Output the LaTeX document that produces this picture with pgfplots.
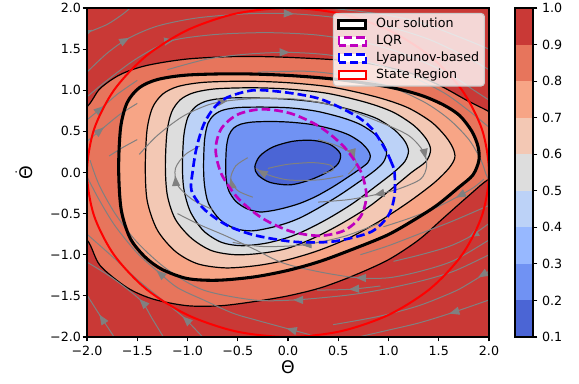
\documentclass[border=0pt]{standalone}
\usepackage{pgfplots}
\pgfplotsset{compat=1.18}
\usepackage{amsmath}
\usepackage{fontspec}
\setmainfont{DejaVu Sans}
\usetikzlibrary{arrows.meta}

% coolwarm bands, 0.1 ... 1.0
\definecolor{cA}{RGB}{75,101,213}
\definecolor{cB}{RGB}{112,146,243}
\definecolor{cC}{RGB}{151,184,255}
\definecolor{cD}{RGB}{188,210,247}
\definecolor{cE}{RGB}{221,221,221}
\definecolor{cF}{RGB}{243,200,180}
\definecolor{cG}{RGB}{247,165,134}
\definecolor{cH}{RGB}{231,117,92}
\definecolor{cI}{RGB}{201,57,54}
\definecolor{lqr}{RGB}{191,0,191}
\definecolor{streamgray}{RGB}{128,128,128}
\definecolor{legendedge}{RGB}{204,204,204}

\pgfplotsset{
  sl/.style={streamgray, line width=0.75pt, smooth, forget plot},
  lev/.style={fill=#1, draw=black, line width=0.9pt, smooth cycle, forget plot},
}

\begin{document}
\begin{tikzpicture}
\useasboundingbox (-65.25pt,-35.25pt) rectangle (369pt,252.75pt);

\begin{axis}[
  at={(0pt,0pt)}, anchor=south west,
  width=301.5pt, height=246.75pt, scale only axis,
  xmin=-2, xmax=2, ymin=-2, ymax=2,
  axis on top,
  axis line style={line width=0.8pt},
  tick align=outside, tick pos=left,
  major tick length=3.3pt,
  every tick/.style={black, line width=0.8pt},
  xtick={-2,-1.5,-1,-0.5,0,0.5,1,1.5,2},
  ytick={-2,-1.5,-1,-0.5,0,0.5,1,1.5,2},
  xticklabels={−2.0,−1.5,−1.0,−0.5,0.0,0.5,1.0,1.5,2.0},
  yticklabels={−2.0,−1.5,−1.0,−0.5,0.0,0.5,1.0,1.5,2.0},
  tick label style={font=\fontsize{9.5}{11}\selectfont},
  yticklabel style={inner xsep=1pt},
  xlabel={Θ}, ylabel={$\dot{\text{Θ}}$},
  label style={font=\fontsize{13}{15}\selectfont},
  xlabel style={at={(axis description cs:0.5,-0.0912)}, anchor=center},
  ylabel style={at={(axis description cs:-0.1567,0.5)}, anchor=center},
  legend cell align=left,
  legend image code/.code={\draw[#1, sharp corners, fill=white, fill opacity=1] (0pt,-3pt) rectangle (20.25pt,3pt);},
  legend style={
    at={(0.990,0.985)}, anchor=north east,
    draw=legendedge, line width=0.8pt, fill=white, fill opacity=0.8, text opacity=1,
    rounded corners=2.5pt,
    font=\fontsize{9.5}{11}\selectfont,
    inner xsep=3pt, inner ysep=2.5pt,
    row sep=1.8pt,
    nodes={inner sep=1pt, text height=7pt, text depth=2pt},
    /tikz/every odd column/.append style={column sep=5.5pt},
  },
]

% value bands of the learned function, outermost first
\addplot[fill=cI, draw=none, forget plot] coordinates {(-2,-2) (2,-2) (2,2) (-2,2)} -- cycle;

\addplot[lev=cH] coordinates {
(-2.0,0.80) (-1.87,1.02) (-1.67,1.19) (-1.41,1.30) (-1.0,1.38) (-0.5,1.41) (0.0,1.40)
(0.66,1.35) (1.16,1.23) (1.49,1.07) (1.79,0.87) (2.0,0.74) (2.25,0.55) (2.25,0.05)
(2.0,-0.08) (1.8,-0.28) (1.55,-0.55) (1.3,-0.82) (1.0,-1.06) (0.66,-1.25) (0.33,-1.40)
(0.0,-1.50) (-0.34,-1.57) (-0.67,-1.62) (-1.0,-1.62) (-1.34,-1.54) (-1.60,-1.40)
(-1.87,-1.13) (-2.0,-0.82) (-2.25,-0.6) (-2.25,0.6)};

\addplot[lev=cG] coordinates {
(-1.685,0.05) (-1.665,0.55) (-1.60,0.85) (-1.48,1.03) (-1.30,1.13) (-1.0,1.185) (-0.5,1.20)
(0.0,1.18) (0.5,1.13) (1.0,1.04) (1.32,0.94) (1.55,0.82) (1.71,0.69) (1.83,0.50) (1.89,0.32)
(1.90,0.15) (1.84,-0.03) (1.70,-0.18) (1.48,-0.40) (1.25,-0.58) (0.99,-0.76) (0.65,-0.93)
(0.32,-1.08) (0.0,-1.19) (-0.34,-1.27) (-0.7,-1.31) (-1.0,-1.29) (-1.25,-1.18) (-1.42,-1.03)
(-1.57,-0.80) (-1.66,-0.45)};

\addplot[lev=cF] coordinates {
(-1.420,0.057) (-1.403,0.513) (-1.348,0.789) (-1.246,0.954) (-1.093,1.046) (-0.839,1.096)
(-0.416,1.110) (0.008,1.091) (0.445,1.036) (0.883,0.917) (1.190,0.789) (1.427,0.614)
(1.567,0.440) (1.64,0.30) (1.66,0.18) (1.6,0.05) (1.45,-0.13) (1.2,-0.36) (0.9,-0.6)
(0.6,-0.8) (0.3,-0.95) (0.0,-1.06) (-0.3,-1.13) (-0.62,-1.16) (-0.9,-1.11) (-1.12,-0.96)
(-1.3,-0.70) (-1.4,-0.35)};

\addplot[lev=cE] coordinates {
(-1.220,0.065) (-1.205,0.480) (-1.158,0.734) (-1.070,0.886) (-0.938,0.970) (-0.719,1.017)
(-0.353,1.030) (0.013,1.013) (0.394,0.962) (0.777,0.852) (1.045,0.734) (1.251,0.573)
(1.373,0.413) (1.419,0.277) (1.373,0.134) (1.228,0.0) (1.03,-0.2) (0.8,-0.42) (0.52,-0.63)
(0.25,-0.80) (0.0,-0.92) (-0.25,-0.98) (-0.52,-1.0) (-0.76,-0.95) (-0.96,-0.80)
(-1.12,-0.57) (-1.20,-0.28)};

\addplot[lev=cD] coordinates {
(-1.050,0.070) (-1.037,0.444) (-0.996,0.673) (-0.920,0.80) (-0.806,0.87) (-0.616,0.905)
(-0.299,0.905) (0.018,0.89) (0.339,0.845) (0.660,0.75) (0.885,0.655) (1.058,0.52)
(1.161,0.383) (1.199,0.260) (1.161,0.131) (1.05,0.0) (0.86,-0.18) (0.64,-0.38) (0.40,-0.56)
(0.18,-0.70) (0.0,-0.79) (-0.22,-0.86) (-0.46,-0.89) (-0.66,-0.85) (-0.84,-0.71)
(-0.97,-0.48) (-1.035,-0.21)};

\addplot[lev=cC] coordinates {
(-0.840,0.076) (-0.830,0.399) (-0.796,0.598) (-0.735,0.70) (-0.643,0.76) (-0.489,0.79)
(-0.232,0.795) (0.024,0.785) (0.284,0.745) (0.544,0.665) (0.726,0.58) (0.866,0.465)
(0.950,0.346) (0.981,0.239) (0.950,0.127) (0.86,0.02) (0.70,-0.12) (0.52,-0.27) (0.32,-0.42)
(0.14,-0.54) (0.0,-0.61) (-0.17,-0.67) (-0.36,-0.71) (-0.53,-0.68) (-0.68,-0.57)
(-0.79,-0.38) (-0.83,-0.16)};

\addplot[lev=cB] coordinates {
(-0.620,0.082) (-0.612,0.313) (-0.587,0.455) (-0.541,0.540) (-0.471,0.587) (-0.355,0.613)
(-0.162,0.620) (0.031,0.611) (0.244,0.582) (0.459,0.521) (0.609,0.455) (0.725,0.365)
(0.794,0.275) (0.820,0.199) (0.794,0.119) (0.712,0.04) (0.58,-0.07) (0.44,-0.18) (0.28,-0.29)
(0.13,-0.37) (0.0,-0.42) (-0.14,-0.46) (-0.28,-0.48) (-0.41,-0.44) (-0.52,-0.35)
(-0.59,-0.22) (-0.615,-0.08)};

\addplot[lev=cA] coordinates {
(-0.33,0.07) (-0.28,0.20) (-0.15,0.31) (0.05,0.38) (0.25,0.39) (0.42,0.34) (0.52,0.23)
(0.50,0.11) (0.40,0.01) (0.22,-0.09) (0.02,-0.15) (-0.18,-0.12) (-0.30,-0.03)};

% closed-loop stream lines
% upper half
\addplot[sl] coordinates {(-2.0,1.70) (-1.8,1.80) (-1.65,1.92) (-1.57,2.0)};
\addplot[sl] coordinates {(-2.0,1.22) (-1.8,1.45) (-1.59,1.63) (-1.3,1.78) (-0.9,1.88) (-0.4,1.93) (0.04,1.93) (0.5,1.88) (1.0,1.77) (1.4,1.62) (1.75,1.42) (2.0,1.25)};
\addplot[sl] coordinates {(-2.0,0.92) (-1.8,1.12) (-1.55,1.35) (-1.3,1.53) (-1.1,1.62) (-0.7,1.68) (-0.2,1.7) (0.3,1.67) (0.8,1.57) (1.2,1.42) (1.6,1.2) (1.85,1.0) (2.0,0.88)};
\addplot[sl] coordinates {(-1.2,1.25) (-0.8,1.38) (-0.4,1.44) (0.0,1.46) (0.4,1.43) (0.8,1.34) (1.2,1.18) (1.55,0.97) (1.8,0.75) (2.0,0.55)};
\addplot[sl] coordinates {(0.4,2.0) (0.9,1.93) (1.3,1.83) (1.7,1.65) (2.0,1.5)};
\addplot[sl] coordinates {(-0.3,1.22) (0.2,1.23) (0.6,1.17) (1.0,1.05) (1.35,0.86) (1.6,0.65) (1.8,0.4) (1.92,0.15) (1.97,-0.02) (2.0,-0.1)};
\addplot[sl] coordinates {(-2.0,0.64) (-1.84,0.80) (-1.7,0.95) (-1.5,1.12)};
\addplot[sl] coordinates {(-2.0,0.38) (-1.84,0.54) (-1.68,0.70) (-1.5,0.84)};
\addplot[sl] coordinates {(-1.78,0.20) (-1.65,0.30) (-1.5,0.40)};
% lower right, running leftwards
\addplot[sl] coordinates {(1.95,-0.08) (1.85,-0.18) (1.68,-0.30) (1.45,-0.44) (1.2,-0.56) (0.95,-0.66)};
\addplot[sl] coordinates {(2.0,-0.40) (1.62,-0.60) (1.32,-0.74) (1.0,-0.89) (0.72,-1.0)};
\addplot[sl] coordinates {(2.0,-0.62) (1.81,-0.78) (1.6,-0.9) (1.32,-1.0) (1.05,-1.08)};
\addplot[sl] coordinates {(2.0,-0.82) (1.65,-1.07) (1.32,-1.2) (1.0,-1.28) (0.69,-1.28) (0.32,-1.21) (-0.05,-1.1) (-0.34,-0.93) (-0.62,-0.77) (-0.87,-0.64) (-1.1,-0.5)};
\addplot[sl] coordinates {(2.0,-1.0) (1.65,-1.2) (1.32,-1.32) (0.95,-1.42) (0.6,-1.49) (0.06,-1.55) (-0.34,-1.55) (-0.84,-1.43) (-1.2,-1.18) (-1.5,-0.85) (-1.72,-0.5) (-1.88,-0.15) (-1.97,0.15)};
\addplot[sl] coordinates {(0.92,-1.38) (0.62,-1.42) (0.29,-1.43)};
\addplot[sl] coordinates {(2.0,-1.2) (1.8,-1.35) (1.65,-1.45) (1.3,-1.62) (0.9,-1.75) (0.45,-1.85)};
\addplot[sl] coordinates {(2.0,-1.55) (1.62,-1.71) (1.3,-1.83) (0.95,-1.93) (0.7,-2.0)};
% lower left, running upwards
\addplot[sl] coordinates {(0.3,-2.0) (0.0,-1.9) (-0.3,-1.8) (-0.55,-1.71) (-0.84,-1.55) (-1.1,-1.4) (-1.3,-1.2) (-1.5,-0.98) (-1.72,-0.65) (-1.88,-0.33) (-2.0,-0.05)};
\addplot[sl] coordinates {(-0.85,-2.0) (-1.04,-1.76) (-1.25,-1.55) (-1.5,-1.3) (-1.75,-1.02) (-2.0,-0.75)};
\addplot[sl] coordinates {(-1.24,-2.0) (-1.35,-1.78) (-1.47,-1.55) (-1.75,-1.28) (-2.0,-1.09)};
\addplot[sl] coordinates {(-1.73,-2.0) (-1.87,-1.74) (-2.0,-1.49)};
% inner spiral
\addplot[sl] coordinates {(0.9,-0.62) (0.55,-0.78) (0.15,-0.88) (-0.25,-0.9) (-0.55,-0.85)};
\addplot[sl] coordinates {(-1.48,0.22) (-1.3,0.45) (-1.05,0.68) (-0.8,0.82) (-0.61,0.87) (-0.3,0.9) (0.1,0.89) (0.5,0.8) (0.9,0.62) (1.2,0.45) (1.35,0.25) (1.38,0.08) (1.32,-0.08) (1.1,-0.2) (0.87,-0.27) (0.6,-0.33) (0.3,-0.36)};
\addplot[sl] coordinates {(-0.75,-0.45) (-0.95,-0.33) (-1.1,-0.15) (-1.12,0.05) (-1.02,0.22) (-0.88,0.32)};
\addplot[sl] coordinates {(-0.35,-0.3) (-0.5,-0.22) (-0.57,-0.08) (-0.52,0.08) (-0.4,0.18)};
\addplot[sl] coordinates {(0.3,0.4) (0.5,0.32) (0.63,0.23) (0.68,0.1) (0.6,-0.02)};
\addplot[sl] coordinates {(0.55,-0.04) (0.3,-0.09) (0.0,-0.09) (-0.22,-0.02) (-0.32,0.05)};
\addplot[sl] coordinates {(-0.2,0.05) (0.0,0.1) (0.25,0.12) (0.42,0.09) (0.45,0.03) (0.35,-0.01)};

% flow direction heads on the stream lines
\addplot[streamgray, line width=0.75pt, forget plot,
  quiver={u=\thisrow{u}, v=\thisrow{v}},
  -{Triangle[length=7.5pt, width=6pt]}] table[row sep=\\] {
x y u v\\
-1.95 1.73 0.004 0.002\\
-1.59 1.63 0.010 0.0066\\
0.04 1.93 0.018 -0.001\\
-1.14 1.61 0.008 0.0016\\
0.0 1.46 0.016 -0.0002\\
-1.84 0.80 0.006 0.0062\\
-1.84 0.54 0.0064 0.0064\\
-1.87 -1.74 -0.0054 0.0102\\
-1.47 -1.55 -0.008 0.010\\
-1.04 -1.76 -0.008 0.009\\
0.0 -1.9 -0.012 0.004\\
-1.3 -1.2 -0.008 0.0084\\
1.68 -0.30 -0.008 -0.0052\\
1.81 -0.78 -0.008 -0.0056\\
0.69 -1.28 -0.0136 0.0004\\
0.06 -1.55 -0.008 0.0\\
0.62 -1.42 -0.0126 -0.001\\
1.9 -1.27 -0.007 -0.005\\
1.62 -1.71 -0.014 -0.005\\
0.15 -0.88 -0.016 -0.0014\\
-0.61 0.87 0.010 0.0016\\
1.37 0.17 0.0006 -0.0034\\
0.87 -0.27 -0.010 -0.0026\\
-1.12 -0.05 -0.0004 0.0074\\
-0.57 -0.08 -0.001 0.006\\
0.66 0.17 0.001 -0.0044\\
-0.30 0.03 -0.002 0.0014\\
};

% level set of the learned certificate
\addplot[black, line width=2.3pt, smooth cycle] coordinates {
(-1.685,0.05) (-1.665,0.55) (-1.60,0.85) (-1.48,1.03) (-1.30,1.13) (-1.0,1.185) (-0.5,1.20)
(0.0,1.18) (0.5,1.13) (1.0,1.04) (1.32,0.94) (1.55,0.82) (1.71,0.69) (1.83,0.50) (1.89,0.32)
(1.90,0.15) (1.84,-0.03) (1.70,-0.18) (1.48,-0.40) (1.25,-0.58) (0.99,-0.76) (0.65,-0.93)
(0.32,-1.08) (0.0,-1.19) (-0.34,-1.27) (-0.7,-1.31) (-1.0,-1.29) (-1.25,-1.18) (-1.42,-1.03)
(-1.57,-0.80) (-1.66,-0.45)};
\addlegendentry{Our solution}

% LQR region of attraction estimate
\addplot[lqr, line width=2pt, dash pattern=on 6.5pt off 3pt, smooth cycle] coordinates {
(0.78,-0.28) (0.723,0.016) (0.56,0.309) (0.317,0.555) (0.03,0.717) (-0.257,0.769)
(-0.50,0.705) (-0.663,0.534) (-0.72,0.28) (-0.663,-0.016) (-0.50,-0.309) (-0.257,-0.555)
(0.03,-0.717) (0.317,-0.769) (0.56,-0.705) (0.723,-0.534)};
\addlegendentry{LQR}

% Lyapunov-based estimate
\addplot[blue, line width=2pt, dash pattern=on 6.5pt off 3pt, smooth cycle] coordinates {
(1.06,0.0) (1.03,0.12) (0.96,0.30) (0.83,0.54) (0.66,0.70) (0.33,0.89) (0.0,0.97)
(-0.34,1.0) (-0.61,0.91) (-0.74,0.78) (-0.84,0.58) (-0.91,0.30) (-0.95,0.0) (-0.96,-0.22)
(-0.84,-0.44) (-0.61,-0.64) (-0.34,-0.76) (0.0,-0.835) (0.25,-0.85) (0.5,-0.83)
(0.83,-0.72) (1.0,-0.52) (1.06,-0.28)};
\addlegendentry{Lyapunov-based}

% admissible state region, radius 2
\addplot[red, line width=1.5pt, smooth cycle] coordinates {
(2,0) (1.932,0.518) (1.732,1.0) (1.414,1.414) (1.0,1.732) (0.518,1.932) (0,2)
(-0.518,1.932) (-1.0,1.732) (-1.414,1.414) (-1.732,1.0) (-1.932,0.518) (-2,0)
(-1.932,-0.518) (-1.732,-1.0) (-1.414,-1.414) (-1.0,-1.732) (-0.518,-1.932) (0,-2)
(0.518,-1.932) (1.0,-1.732) (1.414,-1.414) (1.732,-1.0) (1.932,-0.518)};
\addlegendentry{State Region}
\end{axis}

% colour bar
\begin{axis}[
  at={(321pt,0pt)}, anchor=south west,
  width=13.5pt, height=246.75pt, scale only axis,
  xmin=0, xmax=1, ymin=0.1, ymax=1.0,
  axis on top,
  axis line style={line width=0.8pt},
  xtick=\empty,
  ytick={0.1,0.2,0.3,0.4,0.5,0.6,0.7,0.8,0.9,1.0},
  yticklabels={0.1,0.2,0.3,0.4,0.5,0.6,0.7,0.8,0.9,1.0},
  yticklabel pos=right, ytick pos=right,
  tick align=outside, major tick length=3.3pt,
  every tick/.style={black, line width=0.8pt},
  tick label style={font=\fontsize{9.5}{11}\selectfont},
]
\addplot[fill=cA, draw=none] coordinates {(0,0.1) (1,0.1) (1,0.2) (0,0.2)} -- cycle;
\addplot[fill=cB, draw=none] coordinates {(0,0.2) (1,0.2) (1,0.3) (0,0.3)} -- cycle;
\addplot[fill=cC, draw=none] coordinates {(0,0.3) (1,0.3) (1,0.4) (0,0.4)} -- cycle;
\addplot[fill=cD, draw=none] coordinates {(0,0.4) (1,0.4) (1,0.5) (0,0.5)} -- cycle;
\addplot[fill=cE, draw=none] coordinates {(0,0.5) (1,0.5) (1,0.6) (0,0.6)} -- cycle;
\addplot[fill=cF, draw=none] coordinates {(0,0.6) (1,0.6) (1,0.7) (0,0.7)} -- cycle;
\addplot[fill=cG, draw=none] coordinates {(0,0.7) (1,0.7) (1,0.8) (0,0.8)} -- cycle;
\addplot[fill=cH, draw=none] coordinates {(0,0.8) (1,0.8) (1,0.9) (0,0.9)} -- cycle;
\addplot[fill=cI, draw=none] coordinates {(0,0.9) (1,0.9) (1,1.0) (0,1.0)} -- cycle;
\end{axis}
\end{tikzpicture}
\end{document}
